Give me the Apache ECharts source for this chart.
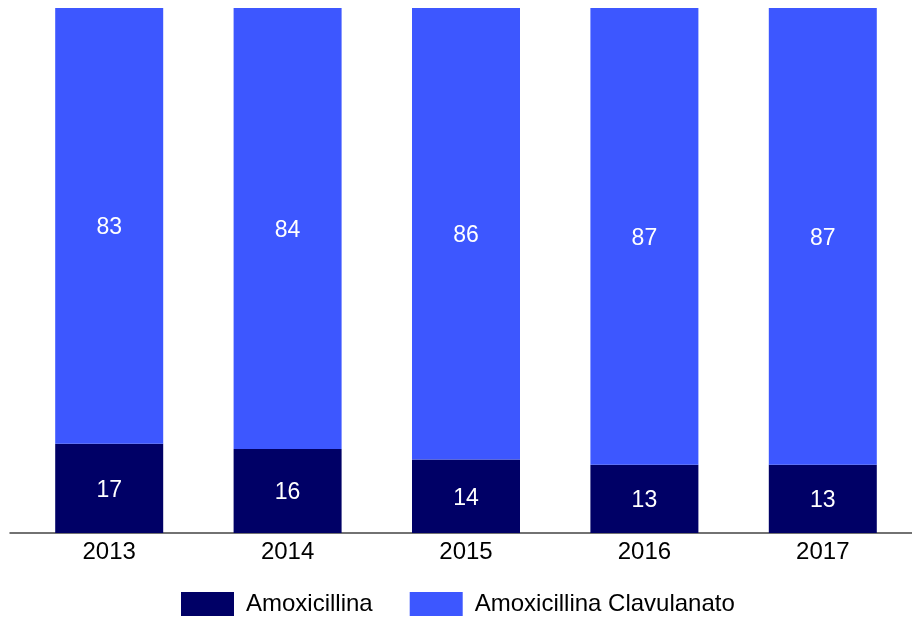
<!DOCTYPE html>
<html><head><meta charset="utf-8">
<script src="https://cdn.jsdelivr.net/npm/echarts@6/dist/echarts.min.js"></script>
<style>html,body{margin:0;padding:0;background:#fff}#c{width:912px;height:618px}</style>
</head><body><div id="c"></div>
<script>
const years = ['2013','2014','2015','2016','2017'];
const amox = [17,16,14,13,13];
const amoxClav = [83,84,86,87,87];
const seriesNames = ['Amoxicillina','Amoxicillina Clavulanato'];
const colors = ['#000066','#3D57FF'];

const chart = echarts.init(document.getElementById('c'));
const font = 'Liberation Sans, Arial, sans-serif';
const lbl = {show:true, position:'inside', color:'#fff', fontSize:23, fontFamily:font, offset:[0,2]};
chart.setOption({
  animation:false,
  grid:[{left:20, right:-1, top:8, bottom:85},
        {left:10, right:0, top:8, bottom:85}],
  legend:{left:181, top:592, padding:0, itemWidth:53, itemHeight:24, itemGap:37,
    icon:'rect',
    textStyle:{fontSize:24, fontFamily:font, color:'#000', padding:[0,0,0,7]},
    data:seriesNames},
  xAxis:[{type:'category', data:years, gridIndex:0,
    axisLine:{show:false},
    axisTick:{show:false},
    axisLabel:{color:'#000', fontSize:24, fontFamily:font, margin:7}},
    {type:'category', data:years, gridIndex:1,
    axisLine:{lineStyle:{color:'#444', width:1.5}},
    axisTick:{show:false}, axisLabel:{show:false}}],
  yAxis:[{type:'value', min:0, max:100, show:false, gridIndex:0},
         {type:'value', min:0, max:100, show:false, gridIndex:1}],
  series:[
    {name:seriesNames[0], type:'bar', stack:'s', data:amox, barWidth:108,
     itemStyle:{color:colors[0]}, label:lbl},
    {name:seriesNames[1], type:'bar', stack:'s', data:amoxClav, barWidth:108,
     itemStyle:{color:colors[1]}, label:lbl}
  ]
});
</script></body></html>
